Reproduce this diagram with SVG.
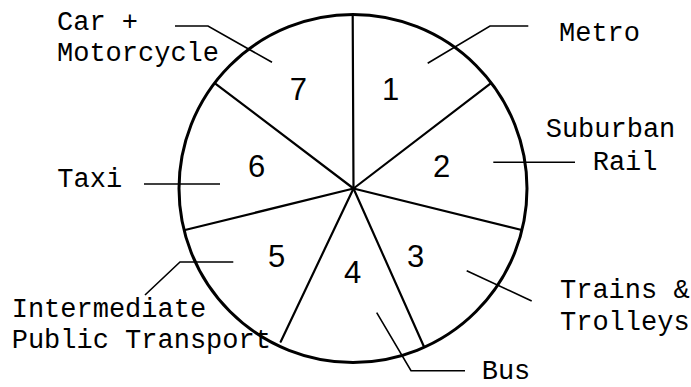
<svg xmlns="http://www.w3.org/2000/svg" width="691" height="387" viewBox="0 0 691 387">
<style>
.lbl{font-family:"Liberation Mono","Courier New",monospace;font-size:27px;fill:#000}
.num{font-family:"Liberation Sans",Arial,sans-serif;font-size:31px;fill:#000;text-anchor:middle}
.spoke{stroke:#000;stroke-width:2.2;fill:none;stroke-linecap:round}
.lead{stroke:#000;stroke-width:1.6;fill:none}
</style>
<rect width="691" height="387" fill="#fff"/>
<g id="pie">
<circle cx="353" cy="188.5" r="174" fill="none" stroke="#000" stroke-width="3"/>
<g class="spoke">
<line x1="353.5" y1="188.5" x2="352.7" y2="15"/>
<line x1="353.5" y1="188.5" x2="490.7" y2="83.3"/>
<line x1="353.5" y1="188.5" x2="521.7" y2="230"/>
<line x1="353.5" y1="188.5" x2="424" y2="346.7"/>
<line x1="353.5" y1="188.5" x2="280.7" y2="341.7"/>
<line x1="353.5" y1="188.5" x2="185" y2="230"/>
<line x1="353.5" y1="188.5" x2="215" y2="83.3"/>
</g>
</g>
<g id="seg1"><text class="num" x="390.7" y="100">1</text></g>
<g id="seg2"><text class="num" x="441.7" y="177">2</text></g>
<g id="seg3"><text class="num" x="415.7" y="266.7">3</text></g>
<g id="seg4"><text class="num" x="352.7" y="283.3">4</text></g>
<g id="seg5"><text class="num" x="276.7" y="266.7">5</text></g>
<g id="seg6"><text class="num" x="256.7" y="176.7">6</text></g>
<g id="seg7"><text class="num" x="298.3" y="100">7</text></g>
<g id="label-metro"><text class="lbl" x="559" y="40.7">Metro</text></g>
<g id="label-suburban"><text class="lbl" x="545.7" y="136.7">Suburban</text><text class="lbl" x="592.7" y="170">Rail</text></g>
<g id="label-trains"><text class="lbl" x="560" y="298.3">Trains &amp;</text><text class="lbl" x="560" y="330">Trolleys</text></g>
<g id="label-bus"><text class="lbl" x="481.7" y="379">Bus</text></g>
<g id="label-ipt"><text class="lbl" x="11.7" y="316.7">Intermediate</text><text class="lbl" x="11.7" y="348.3">Public Transport</text></g>
<g id="label-taxi"><text class="lbl" x="57.3" y="186.7">Taxi</text></g>
<g id="label-car"><text class="lbl" x="57" y="30">Car +</text><text class="lbl" x="57" y="61">Motorcycle</text></g>
<g id="connectors" class="lead">
<polyline points="175,26 208,26 272,62.3"/>
<polyline points="528.3,26 490,26 427.7,63.3"/>
<line x1="493.3" y1="162.3" x2="575" y2="162.3"/>
<line x1="466.7" y1="270.7" x2="531.7" y2="301"/>
<polyline points="376.7,312.7 411,370.7 465,370.7"/>
<polyline points="233.3,262 180,262 145,295"/>
<line x1="144" y1="184" x2="220" y2="184"/>
</g>
</svg>
